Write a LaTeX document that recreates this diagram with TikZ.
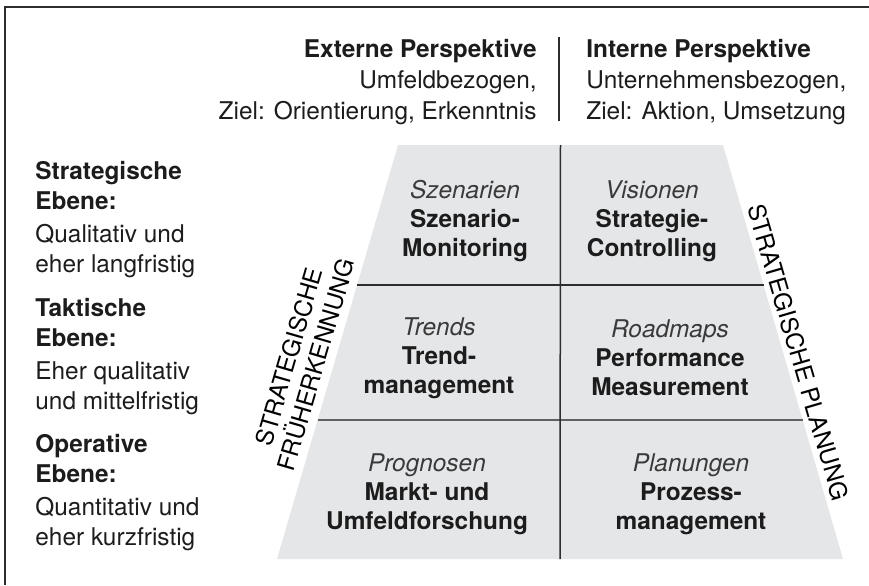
\documentclass[tikz,border=0pt]{standalone}
\usepackage{fontspec}
\setmainfont{TeX Gyre Heros}
\usepackage{tikz}
\usetikzlibrary{calc}

\definecolor{trapezgrau}{RGB}{229,230,232}
\definecolor{liniengrau}{RGB}{45,45,45}
\definecolor{textschwarz}{RGB}{28,28,28}
\definecolor{kursivgrau}{RGB}{58,58,58}

\tikzset{
	txt/.style = {text=textschwarz, inner sep=0pt, font=\fontsize{12.2}{15}\selectfont},
	kopf/.style = {txt, font=\fontsize{12.2}{15.5}\selectfont},
	ebene/.style = {txt, align=left, anchor=north west},
	feld/.style = {txt, align=center, font=\fontsize{12.2}{14.6}\selectfont\bfseries},
	seite/.style = {txt, align=center, text=black, font=\fontsize{12}{14}\selectfont},
	trenner/.style = {draw=liniengrau, line width=0.75pt},
	rahmen/.style = {draw=liniengrau, line width=0.8pt},
}
\newcommand{\kursiv}[1]{{\mdseries\itshape\color{kursivgrau}#1}}

\begin{document}
\begin{tikzpicture}[x=0.5pt, y=-0.5pt]
	\useasboundingbox (0,0) rectangle (869,585);
	\draw[rahmen] (869,7) -- (5,7) -- (5,585);

	\node[kopf, align=right, anchor=north east] (extern) at (537,39)
		{\textbf{Externe Perspektive}\\Umfeldbezogen,\\Ziel: Orientierung, Erkenntnis};
	\node[kopf, align=left, anchor=north west] (intern) at (586,39)
		{\textbf{Interne Perspektive}\\Unternehmensbezogen,\\Ziel: Aktion, Umsetzung};
	\draw[trenner] (559,37) -- (559,121);

	\node[ebene] (strat) at (35,161) {\textbf{Strategische}\\\textbf{Ebene:}\\[1.5pt]Qualitativ und\\eher langfristig};
	\node[ebene] (takt) at (35,298) {\textbf{Taktische}\\\textbf{Ebene:}\\[1.5pt]Eher qualitativ\\und mittelfristig};
	\node[ebene] (oper) at (35,434) {\textbf{Operative}\\\textbf{Ebene:}\\[1.5pt]Quantitativ und\\eher kurzfristig};

	\coordinate (tl) at (398,145);
	\coordinate (tr) at (723,145);
	\coordinate (br) at (843,559);
	\coordinate (bl) at (277,559);
	\fill[trapezgrau] (tl) -- (tr) -- (br) -- (bl) -- cycle;
	\draw[trenner] ($(tl)!0.338!(bl)$) -- ($(tr)!0.338!(br)$);
	\draw[trenner, draw=liniengrau!75] ($(tl)!0.664!(bl)$) -- ($(tr)!0.664!(br)$);
	\draw[trenner] ($(tl)!0.5!(tr)$) -- ($(bl)!0.5!(br)$);

	\node[feld] (szen) at (465,221) {\kursiv{Szenarien}\\Szenario-\\Monitoring};
	\node[feld] (vis) at (652,221) {\kursiv{Visionen}\\Strategie-\\Controlling};
	\node[feld] (trend) at (439,358) {\kursiv{Trends}\\Trend-\\management};
	\node[feld] (road) at (670,358) {\kursiv{Roadmaps}\\Performance\\Measurement};
	\node[feld] (prog) at (427,494) {\kursiv{Prognosen}\\Markt- und\\Umfeldforschung};
	\node[feld] (plan) at (691,494) {\kursiv{Planungen}\\Prozess-\\management};

	\node[seite, rotate=73.7] (frueh) at (302.5,360.5) {STRATEGISCHE\\FRÜHERKENNUNG};
	\node[seite, rotate=-73.7] (planung) at (798.5,352.5) {STRATEGISCHE PLANUNG};
\end{tikzpicture}
\end{document}
